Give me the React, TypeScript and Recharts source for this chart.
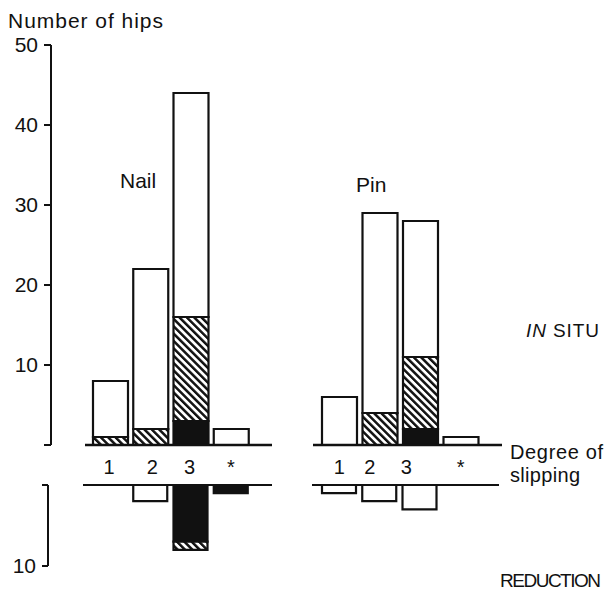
import React from 'react';
import { BarChart, Bar, XAxis, YAxis } from 'recharts';

// Categories: degree of slipping
const categories = ['1', '2', '3', '*'];

// IN SITU – number of hips, segments stacked upward from the baseline
const nailInSituBlack = [0, 0, 3, 0];
const nailInSituHatched = [1, 2, 13, 0];
const nailInSituOpen = [7, 20, 28, 2];

const pinInSituBlack = [0, 0, 2, 0];
const pinInSituHatched = [0, 4, 9, 0];
const pinInSituOpen = [6, 25, 17, 1];

// REDUCTION – number of hips, segments stacked downward from the baseline
const nailReductionBlack = [0, 0, 7, 1];
const nailReductionHatched = [0, 0, 1, 0];
const nailReductionOpen = [0, 2, 0, 0];

const pinReductionBlack = [0, 0, 0, 0];
const pinReductionHatched = [0, 0, 0, 0];
const pinReductionOpen = [1, 2, 3, 0];

const inSituTicks = [0, 10, 20, 30, 40, 50];
const reductionTicks = [0, 10];

const buildRows = (black: number[], hatched: number[], open: number[]) =>
  categories.map((cat, i) => ({ cat, black: black[i], hatched: hatched[i], open: open[i] }));

const nailInSitu = buildRows(nailInSituBlack, nailInSituHatched, nailInSituOpen);
const pinInSitu = buildRows(pinInSituBlack, pinInSituHatched, pinInSituOpen);
const nailReduction = buildRows(nailReductionBlack, nailReductionHatched, nailReductionOpen);
const pinReduction = buildRows(pinReductionBlack, pinReductionHatched, pinReductionOpen);

const FONT = '"Liberation Sans", Arial, Helvetica, sans-serif';
const INK = '#111';

const pattern = (id: string) => (
  <defs>
    <pattern id={id} patternUnits="userSpaceOnUse" width={5.2} height={5.2} patternTransform="rotate(-45)">
      <rect x={0} y={0} width={5.2} height={5.2} fill="#fff" />
      <rect x={0} y={0} width={2.5} height={5.2} fill={INK} />
    </pattern>
  </defs>
);

const segments = (hatchId: string, size: number) => [
  <Bar key="b" dataKey="black" stackId="s" fill={INK} stroke={INK} strokeWidth={2.2} barSize={size} isAnimationActive={false} />,
  <Bar key="h" dataKey="hatched" stackId="s" fill={`url(#${hatchId})`} stroke={INK} strokeWidth={2.2} barSize={size} isAnimationActive={false} />,
  <Bar key="o" dataKey="open" stackId="s" fill="#fff" stroke={INK} strokeWidth={2.2} barSize={size} isAnimationActive={false} />,
];

const catTick = (offsets: number[]) => (props: any) => {
  const { x, payload, index } = props;
  return (
    <text x={x + (offsets[index] || 0)} y={474} textAnchor="middle" fontSize={20} fontFamily={FONT} fill={INK}>
      {payload.value}
    </text>
  );
};

const abs = (left: number, top: number): React.CSSProperties => ({ position: 'absolute', left, top });

export default function App() {
  const axisTickStyle = { fontSize: 21, fill: INK, fontFamily: FONT };
  return (
    <div style={{ position: 'absolute', left: 0, top: 0, width: 606, height: 592, background: '#fff', overflow: 'hidden' }}>
      {/* Upper y axis */}
      <div style={abs(0, 0)}>
        <BarChart width={70} height={480} data={nailInSitu} margin={{ top: 45, right: 0, bottom: 35, left: 0 }}>
          <XAxis dataKey="cat" hide />
          <YAxis
            width={51}
            type="number"
            domain={[0, 50]}
            allowDataOverflow
            ticks={inSituTicks}
            interval={0}
            tickFormatter={(v: number) => (v === 0 ? '' : String(v))}
            axisLine={{ stroke: INK, strokeWidth: 2 }}
            tickLine={{ stroke: INK, strokeWidth: 2 }}
            tickSize={7}
            tickMargin={6}
            tick={axisTickStyle}
          />
        </BarChart>
      </div>

      {/* Nail, in situ */}
      <div style={abs(0, 0)}>
        <BarChart width={280} height={480} data={nailInSitu} margin={{ top: 45, right: 8, bottom: 0, left: 85 }}>
          {pattern('hatchNailUp')}
          <XAxis
            dataKey="cat"
            height={35}
            padding={{ left: 5, right: 21 }}
            axisLine={{ stroke: INK, strokeWidth: 2.5 }}
            tickLine={false}
            interval={0}
            tick={catTick([-1, 2, -1, 0])}
          />
          <YAxis hide type="number" domain={[0, 50]} allowDataOverflow />
          {segments('hatchNailUp', 35)}
        </BarChart>
      </div>

      {/* Pin, in situ */}
      <div style={abs(290, 0)}>
        <BarChart width={220} height={480} data={pinInSitu} margin={{ top: 45, right: 8, bottom: 0, left: 23 }}>
          {pattern('hatchPinUp')}
          <XAxis
            dataKey="cat"
            height={35}
            padding={{ left: 6, right: 21 }}
            axisLine={{ stroke: INK, strokeWidth: 2.5 }}
            tickLine={false}
            interval={0}
            tick={catTick([0, -10, -14, 0])}
          />
          <YAxis hide type="number" domain={[0, 50]} allowDataOverflow />
          {segments('hatchPinUp', 35)}
        </BarChart>
      </div>

      {/* Lower y axis */}
      <div style={abs(0, 440)}>
        <BarChart width={70} height={136} data={nailReduction} margin={{ top: 45, right: 0, bottom: 10, left: 0 }}>
          <XAxis dataKey="cat" hide />
          <YAxis
            width={48}
            type="number"
            reversed
            domain={[0, 10]}
            allowDataOverflow
            ticks={reductionTicks}
            interval={0}
            tickFormatter={(v: number) => (v === 0 ? '' : String(v))}
            axisLine={{ stroke: INK, strokeWidth: 2 }}
            tickLine={{ stroke: INK, strokeWidth: 2 }}
            tickSize={6}
            tickMargin={6}
            tick={axisTickStyle}
          />
        </BarChart>
      </div>

      {/* Nail, reduction */}
      <div style={abs(0, 440)}>
        <BarChart width={280} height={136} data={nailReduction} margin={{ top: 40, right: 8, bottom: 10, left: 83 }}>
          {pattern('hatchNailDown')}
          <XAxis
            dataKey="cat"
            orientation="top"
            height={5}
            padding={{ left: 7, right: 21 }}
            axisLine={{ stroke: INK, strokeWidth: 2 }}
            tickLine={false}
            tick={false}
          />
          <YAxis hide type="number" reversed domain={[0, 10]} allowDataOverflow />
          {segments('hatchNailDown', 34)}
        </BarChart>
      </div>

      {/* Pin, reduction */}
      <div style={abs(290, 440)}>
        <BarChart width={220} height={136} data={pinReduction} margin={{ top: 40, right: 11, bottom: 10, left: 22 }}>
          {pattern('hatchPinDown')}
          <XAxis
            dataKey="cat"
            orientation="top"
            height={5}
            padding={{ left: 7, right: 19 }}
            axisLine={{ stroke: INK, strokeWidth: 2 }}
            tickLine={false}
            tick={false}
          />
          <YAxis hide type="number" reversed domain={[0, 10]} allowDataOverflow />
          {segments('hatchPinDown', 34)}
        </BarChart>
      </div>

      {/* Annotations */}
      <svg width={606} height={592} style={{ position: 'absolute', left: 0, top: 0, pointerEvents: 'none' }}>
        <g fontFamily={FONT} fill={INK}>
          <text x={8} y={28} fontSize={21} textLength={155}>Number of hips</text>
          <text x={120} y={188} fontSize={21}>Nail</text>
          <text x={356} y={192} fontSize={21}>Pin</text>
          <text x={526} y={337} fontSize={19} textLength={73}>
            <tspan fontStyle="italic">IN</tspan> SITU
          </text>
          <text x={510} y={459} fontSize={20} textLength={93}>Degree of</text>
          <text x={510} y={482} fontSize={20} textLength={70}>slipping</text>
          <text x={500} y={587} fontSize={19} textLength={101}>REDUCTION</text>
        </g>
      </svg>
    </div>
  );
}
